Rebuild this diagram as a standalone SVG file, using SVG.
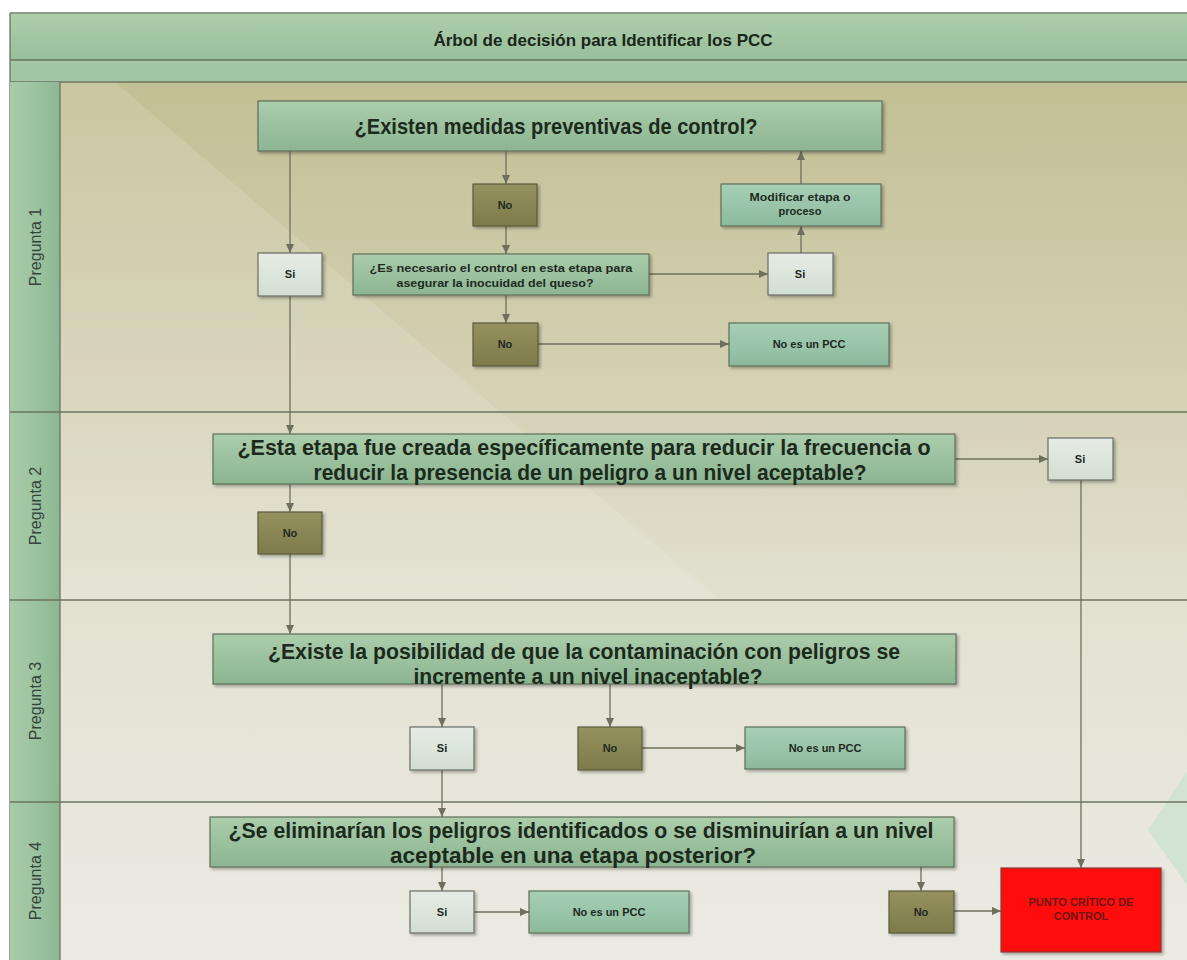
<svg xmlns="http://www.w3.org/2000/svg" width="1187" height="960" viewBox="0 0 1187 960">
<defs>
<linearGradient id="bg" x1="0" y1="0" x2="0" y2="1">
<stop offset="0" stop-color="#c2bf94"/>
<stop offset="0.38" stop-color="#d6d3b8"/>
<stop offset="0.6" stop-color="#e3e1d2"/>
<stop offset="1" stop-color="#ecebe3"/>
</linearGradient>
<linearGradient id="hdr" x1="0" y1="0" x2="0" y2="1">
<stop offset="0" stop-color="#aecdab"/>
<stop offset="1" stop-color="#98bf9b"/>
</linearGradient>
<linearGradient id="lane" x1="0" y1="0" x2="1" y2="0">
<stop offset="0" stop-color="#a9cbab"/>
<stop offset="0.5" stop-color="#9cc39f"/>
<stop offset="1" stop-color="#8cb792"/>
</linearGradient>
<linearGradient id="gq" x1="0" y1="0" x2="0" y2="1">
<stop offset="0" stop-color="#abcdab"/>
<stop offset="1" stop-color="#8cb592"/>
</linearGradient>
<linearGradient id="gm" x1="0" y1="0" x2="0" y2="1">
<stop offset="0" stop-color="#a7cfb6"/>
<stop offset="1" stop-color="#8cba9d"/>
</linearGradient>
<linearGradient id="gs" x1="0" y1="0" x2="0" y2="1">
<stop offset="0" stop-color="#e6ece5"/>
<stop offset="1" stop-color="#d2ded2"/>
</linearGradient>
<linearGradient id="gn" x1="0" y1="0" x2="0" y2="1">
<stop offset="0" stop-color="#95925f"/>
<stop offset="1" stop-color="#7d7a4c"/>
</linearGradient>
<filter id="sh" x="-10%" y="-10%" width="130%" height="140%">
<feDropShadow dx="2" dy="2" stdDeviation="1.5" flood-color="#000" flood-opacity="0.3"/>
</filter>
<marker id="ah" viewBox="0 0 9 8" refX="9" refY="4" markerWidth="9" markerHeight="8" markerUnits="userSpaceOnUse" orient="auto">
<path d="M0,0 L9,4 L0,8 z" fill="#6e705d"/>
</marker>
<style>
.q{fill:url(#gq);stroke:#5f6f57;stroke-width:1.2;filter:url(#sh)}
.m{fill:url(#gm);stroke:#5f6f57;stroke-width:1.2;filter:url(#sh)}
.s{fill:url(#gs);stroke:#6a6d66;stroke-width:1.2;filter:url(#sh)}
.n{fill:url(#gn);stroke:#5b5a3b;stroke-width:1.2;filter:url(#sh)}
.qt{font-family:"Liberation Sans",Arial,sans-serif;font-weight:bold;font-size:22px;fill:#1c2a1c;text-anchor:middle}
.st{font-family:"Liberation Sans",Arial,sans-serif;font-weight:bold;font-size:11px;fill:#1f2a1f;text-anchor:middle}
.lt{font-family:"Liberation Sans",Arial,sans-serif;font-size:16px;fill:#34443a;text-anchor:middle}
.c{fill:none;stroke:#6e705d;stroke-width:1.3;marker-end:url(#ah)}
.ln{stroke:#6b735f;stroke-width:1.3;fill:none}
</style>
</defs>

<rect x="0" y="0" width="1187" height="960" fill="#ffffff"/>
<rect x="10" y="82" width="1177" height="878" fill="url(#bg)"/>
<polygon points="60,82 115,82 720,600 60,600" fill="#ffffff" opacity="0.12"/>
<polygon points="1187,772 1148,830 1187,885" fill="#cfe2cf" opacity="0.9"/>

<g id="title">
<rect x="10" y="13" width="1177" height="47" fill="url(#hdr)"/>
<rect x="10" y="60" width="1177" height="22" fill="#a3c7a6"/>
<line x1="10" y1="13" x2="1187" y2="13" stroke="#8f9a8c" stroke-width="2"/>
<line x1="10" y1="60" x2="1187" y2="60" class="ln"/>
<line x1="10" y1="82" x2="1187" y2="82" class="ln"/>
<line x1="10" y1="13" x2="10" y2="960" class="ln"/>
<text x="603" y="46" font-family="Liberation Sans, Arial, sans-serif" font-weight="bold" font-size="17" fill="#1a261a" text-anchor="middle">Árbol de decisión para Identificar los PCC</text>
</g>

<g id="lanes">
<rect x="10" y="82" width="50" height="878" fill="url(#lane)"/>
<line x1="60" y1="82" x2="60" y2="960" class="ln"/>
<line x1="10" y1="412" x2="1187" y2="412" class="ln"/>
<line x1="10" y1="600" x2="1187" y2="600" class="ln"/>
<line x1="10" y1="802" x2="1187" y2="802" class="ln"/>
<text class="lt" transform="translate(41,247) rotate(-90)">Pregunta 1</text>
<text class="lt" transform="translate(41,506) rotate(-90)">Pregunta 2</text>
<text class="lt" transform="translate(41,701) rotate(-90)">Pregunta 3</text>
<text class="lt" transform="translate(41,881) rotate(-90)">Pregunta 4</text>
</g>

<g id="connectors">
<path class="c" d="M290,151 V253"/>
<path class="c" d="M506,151 V184"/>
<path class="c" d="M506,226 V254"/>
<path class="c" d="M649,274 H768"/>
<path class="c" d="M801,253 V226"/>
<path class="c" d="M801,184 V151"/>
<path class="c" d="M506,295 V323"/>
<path class="c" d="M538,344 H729"/>
<path class="c" d="M290,296 V434"/>
<path class="c" d="M955,459 H1048"/>
<path class="c" d="M290,484 V512"/>
<path class="c" d="M290,554 V634"/>
<path class="c" d="M442,684 V727"/>
<path class="c" d="M610,684 V727"/>
<path class="c" d="M642,748 H745"/>
<path class="c" d="M442,770 V817"/>
<path class="c" d="M442,867 V891"/>
<path class="c" d="M474,912 H529"/>
<path class="c" d="M921,867 V891"/>
<path class="c" d="M954,911 H1001"/>
<path class="c" d="M1081,480 V868"/>
</g>

<g id="q1"><rect class="q" x="258" y="101" width="624" height="50"/>
<text class="qt" x="556" y="134" textLength="403" lengthAdjust="spacingAndGlyphs">¿Existen medidas preventivas de control?</text></g>

<g id="si1"><rect class="s" x="258" y="253" width="64" height="43"/><text class="st" x="290" y="278">Si</text></g>

<g id="no1"><rect class="n" x="473" y="184" width="64" height="42"/><text class="st" x="505" y="209">No</text></g>

<g id="es"><rect class="q" x="353" y="254" width="296" height="41"/>
<text class="st" x="501" y="272" textLength="263" lengthAdjust="spacingAndGlyphs">¿Es necesario el control en esta etapa para</text>
<text class="st" x="495" y="287" textLength="197" lengthAdjust="spacingAndGlyphs">asegurar la inocuidad del queso?</text></g>

<g id="siR"><rect class="s" x="768" y="253" width="65" height="42"/><text class="st" x="800" y="278">Si</text></g>

<g id="mod"><rect class="m" x="721" y="184" width="160" height="42"/>
<text class="st" x="800" y="201" textLength="101" lengthAdjust="spacingAndGlyphs">Modificar etapa o</text>
<text class="st" x="800" y="215">proceso</text></g>

<g id="no2"><rect class="n" x="473" y="323" width="65" height="43"/><text class="st" x="505" y="348">No</text></g>

<g id="nopcc1"><rect class="m" x="729" y="323" width="160" height="43"/><text class="st" x="809" y="348">No es un PCC</text></g>

<g id="q2"><rect class="q" x="213" y="434" width="742" height="50"/>
<text class="qt" x="584" y="455" textLength="693" lengthAdjust="spacingAndGlyphs">¿Esta etapa fue creada específicamente para reducir la frecuencia o</text>
<text class="qt" x="590" y="480" textLength="553" lengthAdjust="spacingAndGlyphs">reducir la presencia de un peligro a un nivel aceptable?</text></g>

<g id="siP2"><rect class="s" x="1048" y="438" width="65" height="42"/><text class="st" x="1080" y="463">Si</text></g>

<g id="noP2"><rect class="n" x="258" y="512" width="64" height="42"/><text class="st" x="290" y="537">No</text></g>

<g id="q3"><rect class="q" x="213" y="634" width="743" height="50"/>
<text class="qt" x="584" y="659" textLength="632" lengthAdjust="spacingAndGlyphs">¿Existe la posibilidad de que la contaminación con peligros se</text>
<text class="qt" x="588" y="684" textLength="349" lengthAdjust="spacingAndGlyphs">incremente a un nivel inaceptable?</text></g>

<g id="siP3"><rect class="s" x="410" y="727" width="64" height="43"/><text class="st" x="442" y="752">Si</text></g>

<g id="noP3"><rect class="n" x="578" y="727" width="64" height="43"/><text class="st" x="610" y="752">No</text></g>

<g id="nopcc3"><rect class="m" x="745" y="727" width="160" height="42"/><text class="st" x="825" y="752">No es un PCC</text></g>

<g id="q4"><rect class="q" x="210" y="817" width="744" height="50"/>
<text class="qt" x="581" y="838" textLength="705" lengthAdjust="spacingAndGlyphs">¿Se eliminarían los peligros identificados o se disminuirían a un nivel</text>
<text class="qt" x="573" y="863" textLength="366" lengthAdjust="spacingAndGlyphs">aceptable en una etapa posterior?</text></g>

<g id="siP4"><rect class="s" x="410" y="891" width="64" height="42"/><text class="st" x="442" y="916">Si</text></g>

<g id="nopcc4"><rect class="m" x="529" y="891" width="160" height="42"/><text class="st" x="609" y="916">No es un PCC</text></g>

<g id="noP4"><rect class="n" x="889" y="891" width="65" height="42"/><text class="st" x="921" y="916">No</text></g>

<g id="pcc"><rect x="1001" y="868" width="160" height="84" fill="#ff0a0a" stroke="#8a3a3a" stroke-width="1.2" filter="url(#sh)"/>
<text class="st" x="1081" y="906" style="fill:#6d1414">PUNTO CRÍTICO DE</text>
<text class="st" x="1081" y="920" style="fill:#6d1414">CONTROL</text></g>
</svg>
